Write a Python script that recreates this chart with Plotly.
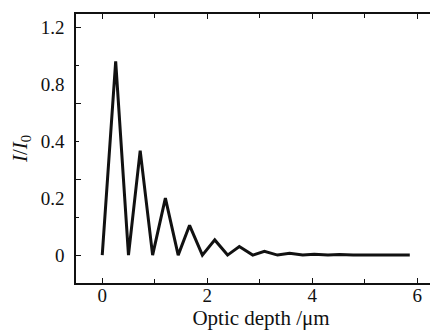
import plotly.graph_objects as go

# Data
depth_um = [0, 0.256, 0.50, 0.723, 0.96, 1.203, 1.447, 1.664, 1.908, 2.144, 2.388,
            2.612, 2.868, 3.09, 3.34, 3.57, 3.82, 4.04, 4.30, 4.52, 4.78, 5.0, 5.26,
            5.5, 5.86]
intensity = [0, 1.02, 0, 0.55, 0, 0.30, 0, 0.157, 0, 0.080, 0, 0.045, 0, 0.020, 0,
             0.010, 0, 0.005, 0, 0.003, 0, 0.002, 0.001, 0.001, 0.001]

y_label_vals = [0, 0.3, 0.6, 0.9, 1.2]
y_label_text = ["0", "0.2", "0.4", "0.8", "1.2"]
x_tick_vals = [0, 2, 4, 6]

FONT = "Liberation Serif"

fig = go.Figure()
fig.add_trace(go.Scatter(x=depth_um, y=intensity, mode="lines",
                         line=dict(color="#111111", width=3),
                         showlegend=False, hoverinfo="skip"))
# carrier for the labelled overlay axis
fig.add_trace(go.Scatter(x=[None], y=[None], yaxis="y2", mode="lines",
                         showlegend=False, hoverinfo="skip"))

YR = [-0.147, 1.27]

fig.update_layout(
    width=438, height=333,
    margin=dict(l=68, r=0, t=6, b=58),
    paper_bgcolor="white", plot_bgcolor="white",
    font=dict(family=FONT, color="#111111", size=19),
    xaxis=dict(
        range=[-0.5, 6.55], tickvals=x_tick_vals, ticks="inside", ticklen=5,
        tickwidth=1.2, tickcolor="#111111",
        minor=dict(dtick=1, ticks="inside", ticklen=4, tickwidth=1.2, tickcolor="#111111"),
        showline=True, linecolor="#111111", linewidth=1.5, mirror="ticks",
        showgrid=False, zeroline=False, ticklabelstandoff=-6,
        tickfont=dict(size=19, family=FONT),
        title=dict(text="Optic depth /μm", font=dict(size=21, family=FONT), standoff=0),
    ),
    yaxis=dict(
        range=YR, tick0=0, dtick=0.4, ticks="inside", ticklen=5,
        tickwidth=1.2, tickcolor="#111111",
        minor=dict(dtick=0.2, ticks="inside", ticklen=3, tickwidth=1.2, tickcolor="#111111"),
        showticklabels=False, showline=False, mirror="ticks",
        showgrid=False, zeroline=False,
    ),
    yaxis2=dict(
        range=YR, overlaying="y", side="left", anchor="x",
        tickvals=y_label_vals, ticktext=y_label_text, ticks="",
        showline=True, linecolor="#111111", linewidth=1.5,
        showgrid=False, zeroline=False, ticklabelstandoff=6,
        tickfont=dict(size=19, family=FONT),
        title=dict(text="<i>I</i>/<i>I</i><sub>0</sub>", font=dict(size=21, family=FONT),
                   standoff=12),
    ),
)

fig.write_html("out.html")
